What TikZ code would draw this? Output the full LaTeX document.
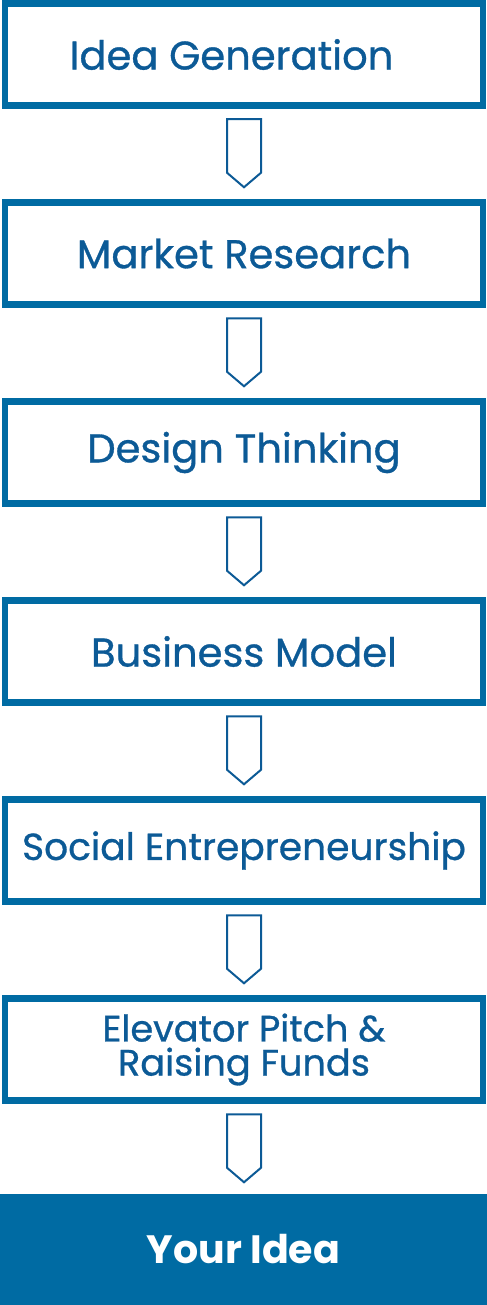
\documentclass[tikz,border=0pt]{standalone}
\usepackage{fontspec}
\setmainfont{Poppins}[UprightFeatures={FakeBold=0.8}]
\usepackage{xcolor}
\usetikzlibrary{calc, positioning}
\definecolor{boxblue}{RGB}{0,107,163}
\definecolor{textblue}{RGB}{12,90,150}

\begin{document}
\begin{tikzpicture}[
    stepbox/.style={draw=boxblue, line width=0.13cm, minimum width=9.56cm, minimum height=2.04cm,
        text=textblue, font=\fontsize{22.8}{27}\selectfont},
    finalbox/.style={fill=boxblue, minimum width=9.74cm, minimum height=2.22cm,
        text=white, font=\fontsize{22.5}{27}\selectfont\bfseries},
    downarrow/.style={draw=textblue, line width=0.04cm, fill=white}
]
    \useasboundingbox (0,0) rectangle (9.74,-26.1);
    % Steps
    \node[stepbox] (idea) at (4.88,-1.09) {Idea Generation\hspace*{0.5cm}};
    \node[stepbox] (market) at (4.88,-5.07) {Market Research};
    \node[stepbox] (design) at (4.88,-9.05) {Design Thinking};
    \node[stepbox] (business) at (4.88,-13.03) {Business Model};
    \node[stepbox, font=\fontsize{21.4}{27}\selectfont] (social) at (4.88,-17.01) {Social Entrepreneurship};
    \node[stepbox, align=center, font=\fontsize{20.9}{19.4}\selectfont] (pitch) at (4.88,-20.99) {Elevator Pitch \&\\Raising Funds};
    % Last step
    \node[finalbox] (yours) at (4.87,-24.99) {Your Idea};
    % Arrows
    \draw[downarrow] ($(idea.south)+(-0.34,-0.21)$) -- ++(0,-1.07) -- ++(0.34,-0.29) -- ++(0.34,0.29) -- ++(0,1.07) -- cycle;
    \draw[downarrow] ($(market.south)+(-0.34,-0.21)$) -- ++(0,-1.07) -- ++(0.34,-0.29) -- ++(0.34,0.29) -- ++(0,1.07) -- cycle;
    \draw[downarrow] ($(design.south)+(-0.34,-0.21)$) -- ++(0,-1.07) -- ++(0.34,-0.29) -- ++(0.34,0.29) -- ++(0,1.07) -- cycle;
    \draw[downarrow] ($(business.south)+(-0.34,-0.21)$) -- ++(0,-1.07) -- ++(0.34,-0.29) -- ++(0.34,0.29) -- ++(0,1.07) -- cycle;
    \draw[downarrow] ($(social.south)+(-0.34,-0.21)$) -- ++(0,-1.07) -- ++(0.34,-0.29) -- ++(0.34,0.29) -- ++(0,1.07) -- cycle;
    \draw[downarrow] ($(pitch.south)+(-0.34,-0.21)$) -- ++(0,-1.07) -- ++(0.34,-0.29) -- ++(0.34,0.29) -- ++(0,1.07) -- cycle;
\end{tikzpicture}
\end{document}
